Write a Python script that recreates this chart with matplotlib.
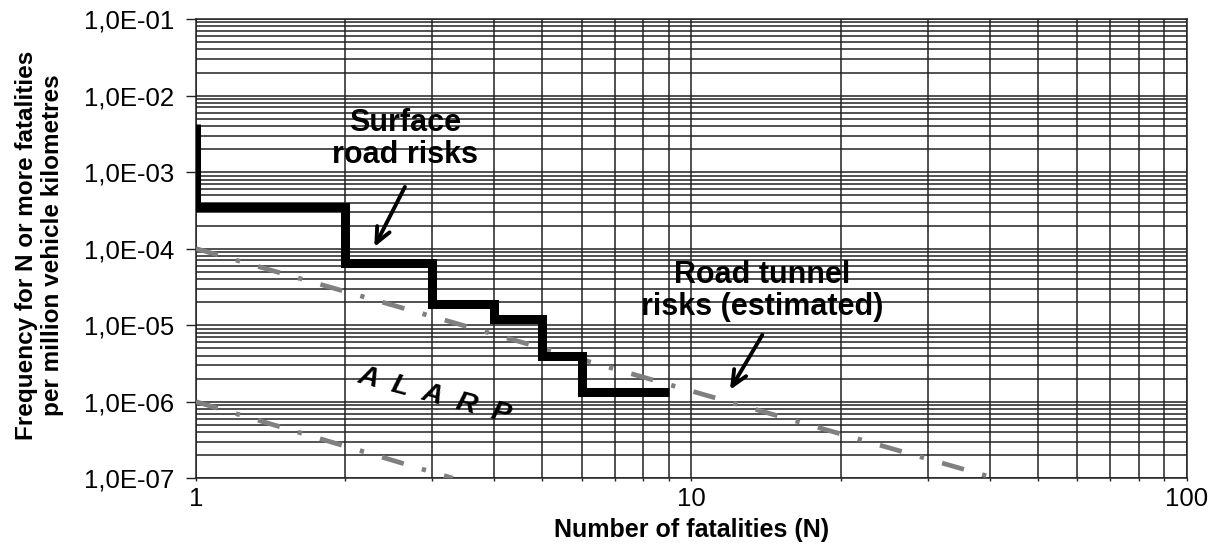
import numpy as np
import matplotlib
matplotlib.use("Agg")
import matplotlib.pyplot as plt
from matplotlib.ticker import LogLocator, FuncFormatter, NullFormatter

# -----------------------------
# Data
# -----------------------------
# surface road risks (step F-N curve)
step_n = [1, 1, 2, 2, 3, 3, 4, 4, 5, 5, 6, 6, 9]
step_f = [4.2e-3, 3.5e-4, 3.5e-4, 6.4e-5, 6.4e-5, 1.9e-5, 1.9e-5,
          1.22e-5, 1.22e-5, 3.9e-6, 3.9e-6, 1.33e-6, 1.33e-6]

# criterion lines (upper / lower ALARP limits)
upper_n = [1, 41]
upper_f = [1.0e-4, 1.0e-7]
lower_n = [1, 3.3]
lower_f = [1.0e-6, 1.0e-7]

x_ticks = [1, 10, 100]
y_ticks = [1e-7, 1e-6, 1e-5, 1e-4, 1e-3, 1e-2, 1e-1]

FONT = "Liberation Sans"
plt.rcParams["font.family"] = [FONT, "DejaVu Sans"]

# -----------------------------
# Figure
# -----------------------------
fig = plt.figure(figsize=(12.19, 5.49), dpi=100)
ax = fig.add_axes([0.1608, 0.1288, 0.8129, 0.8366])

ax.set_xscale("log")
ax.set_yscale("log")
ax.set_xlim(1, 100)
ax.set_ylim(1e-7, 1e-1)

ax.xaxis.set_minor_locator(LogLocator(base=10, subs=np.arange(2, 10)))
ax.yaxis.set_minor_locator(LogLocator(base=10, subs=np.arange(2, 10)))
ax.set_xticks(x_ticks)
ax.set_yticks(y_ticks)
ax.xaxis.set_major_formatter(FuncFormatter(lambda v, p: f"{v:g}"))
ax.yaxis.set_major_formatter(
    FuncFormatter(lambda v, p: f"{v:.1E}".replace(".", ",")))
ax.xaxis.set_minor_formatter(NullFormatter())
ax.yaxis.set_minor_formatter(NullFormatter())

ax.tick_params(axis="x", which="both", length=2.5, width=1, pad=4,
               labelsize=18.5, color="#222222")
ax.tick_params(axis="y", which="major", length=7, width=1, pad=9,
               labelsize=18.5, color="#222222")
ax.tick_params(axis="y", which="minor", length=0)

ax.grid(which="both", color="#222222", lw=1.1, zorder=0)
ax.set_axisbelow(True)
for s in ax.spines.values():
    s.set_color("#222222")
    s.set_linewidth(1.1)

# -----------------------------
# Lines
# -----------------------------
for xs, ys in [(upper_n, upper_f), (lower_n, lower_f)]:
    ax.plot(xs, ys, color="#808080", lw=3.4, dashes=(4.8, 4.0, 0.9, 4.0),
            dash_capstyle="butt", zorder=3)

ax.plot(step_n, step_f, color="black", lw=6.5, solid_joinstyle="miter",
        solid_capstyle="butt", zorder=4)

# -----------------------------
# Annotations
# -----------------------------
arrow = dict(arrowstyle="->,head_length=1.1,head_width=0.5",
             lw=2.8, color="black", shrinkA=0, shrinkB=0)

ax.text(2.64, 2.7e-3, "Surface\nroad risks", ha="center", va="center",
        fontsize=22, fontweight="bold", linespacing=1.05)
ax.annotate("", xy=(2.29, 1.05e-4), xytext=(2.64, 6.4e-4), arrowprops=arrow)

ax.text(13.9, 2.8e-5, "Road tunnel\nrisks (estimated)", ha="center",
        va="center", fontsize=22, fontweight="bold", linespacing=1.05)
ax.annotate("", xy=(11.96, 1.43e-6), xytext=(13.9, 7.45e-6), arrowprops=arrow)

ax.text(0.241, 0.179, "A  L  A  R  P", transform=ax.transAxes,
        ha="center", va="center", rotation=-15, fontsize=20.5,
        fontweight="bold", fontstyle="italic")

# -----------------------------
# Labels
# -----------------------------
ax.set_xlabel("Number of fatalities (N)", fontsize=18, fontweight="bold",
              va="center")
ax.xaxis.set_label_coords(0.5, -0.113)
ax.set_ylabel("Frequency for N or more fatalities\nper million vehicle kilometres",
              fontsize=17.5, fontweight="bold", linespacing=1.15, va="center")
ax.yaxis.set_label_coords(-0.158, 0.507)

fig.savefig("out.png", dpi=100)
plt.close(fig)
